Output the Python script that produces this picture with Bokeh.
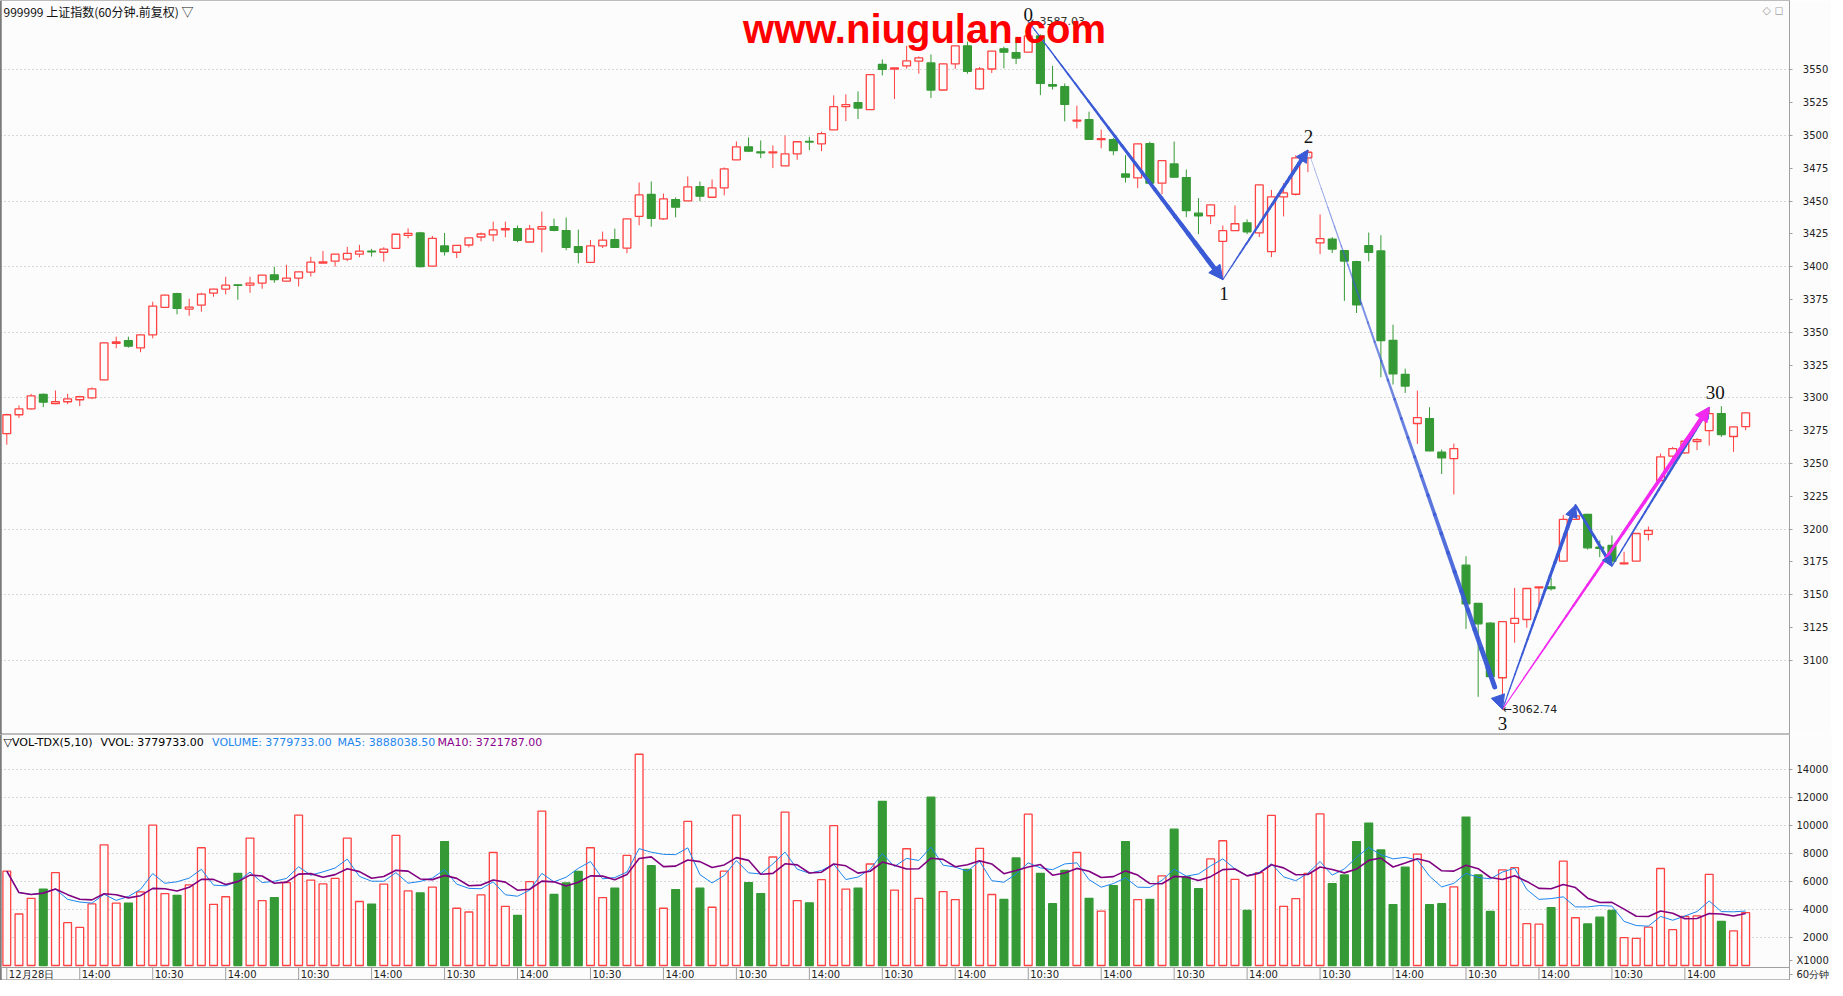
import numpy as np
import pandas as pd
from bokeh.plotting import figure
from bokeh.models import Range1d, FixedTicker, Label, Arrow, NormalHead, ColumnDataSource, Span
from bokeh.layouts import column
from bokeh.embed import file_html
from bokeh.resources import INLINE
from bokeh.core.properties import value

# ---------------- data (60-minute bars) ----------------
opens = [3272.8, 3287.2, 3291.7, 3302.6, 3295.6, 3297.1, 3298.6, 3300.1, 3313.8, 3341.6,
         3343.7, 3338.1, 3348.0, 3369.0, 3379.4, 3367.7, 3370.7, 3379.9, 3382.9, 3386.2,
         3385.9, 3387.5, 3393.8, 3389.0, 3391.3, 3395.8, 3402.7, 3404.2, 3405.7, 3409.5,
         3411.8, 3411.0, 3414.0, 3423.9, 3425.7, 3400.4, 3415.8, 3411.0, 3416.5, 3422.6,
         3424.2, 3428.0, 3429.0, 3418.8, 3428.7, 3430.5, 3427.5, 3415.3, 3403.3, 3415.8,
         3420.6, 3414.2, 3438.4, 3455.0, 3436.4, 3451.1, 3450.1, 3461.0, 3452.9, 3460.0,
         3481.4, 3491.3, 3487.5, 3486.8, 3476.8, 3486.0, 3495.4, 3493.6, 3504.3, 3521.9,
         3524.9, 3519.6, 3554.1, 3550.5, 3553.0, 3556.6, 3555.2, 3534.6, 3554.5, 3568.3,
         3535.4, 3550.6, 3566.0, 3563.0, 3563.4, 3575.8, 3538.6, 3537.1, 3511.0, 3512.0,
         3496.8, 3496.8, 3470.7, 3467.6, 3493.7, 3463.6, 3478.3, 3467.9, 3440.8, 3438.8,
         3419.3, 3427.4, 3433.4, 3425.8, 3411.4, 3453.2, 3455.2, 3482.9, 3418.2, 3421.0,
         3412.2, 3403.8, 3416.0, 3412.0, 3343.9, 3318.0, 3280.5, 3284.3, 3258.6, 3253.8,
         3172.6, 3143.4, 3128.4, 3086.8, 3128.2, 3131.2, 3155.3, 3156.1, 3175.6, 3207.4,
         3211.2, 3186.3, 3187.6, 3173.6, 3175.6, 3196.0, 3237.1, 3255.6, 3258.1, 3266.8,
         3275.1, 3288.1, 3270.6, 3278.2]
highs = [3288.0, 3294.3, 3303.1, 3303.4, 3305.7, 3303.1, 3301.6, 3308.0, 3342.2, 3346.7,
         3346.7, 3348.3, 3373.3, 3378.6, 3380.1, 3375.6, 3380.1, 3383.2, 3392.3, 3386.7,
         3392.3, 3393.8, 3399.9, 3401.4, 3396.4, 3407.5, 3412.0, 3409.8, 3415.1, 3416.6,
         3413.5, 3414.8, 3425.0, 3429.2, 3426.5, 3423.4, 3425.7, 3416.5, 3422.1, 3426.0,
         3434.3, 3434.3, 3431.3, 3431.8, 3442.0, 3436.6, 3437.4, 3428.2, 3420.3, 3426.7,
         3429.0, 3436.6, 3464.1, 3464.9, 3455.7, 3452.7, 3468.7, 3464.9, 3466.4, 3475.6,
         3495.4, 3498.5, 3496.2, 3492.4, 3500.0, 3495.4, 3499.0, 3502.8, 3530.5, 3531.3,
         3533.6, 3546.8, 3557.9, 3551.8, 3568.3, 3560.2, 3561.7, 3554.8, 3568.3, 3571.5,
         3552.1, 3564.4, 3567.6, 3574.1, 3587.03, 3577.0, 3553.0, 3539.6, 3522.6, 3518.1,
         3504.4, 3498.0, 3484.9, 3493.7, 3495.3, 3481.3, 3495.3, 3474.0, 3452.2, 3447.5,
         3431.4, 3446.6, 3436.0, 3462.5, 3458.5, 3463.6, 3484.9, 3488.9, 3439.8, 3422.5,
         3412.5, 3404.5, 3426.0, 3424.0, 3355.8, 3322.3, 3305.6, 3292.9, 3260.7, 3265.2,
         3179.4, 3143.6, 3129.2, 3129.7, 3155.3, 3155.0, 3156.3, 3163.0, 3210.7, 3218.3,
         3211.7, 3191.4, 3195.2, 3182.8, 3196.9, 3202.0, 3257.6, 3262.7, 3268.3, 3269.5,
         3292.9, 3293.7, 3278.1, 3288.8]
lows = [3264.4, 3284.7, 3291.2, 3293.0, 3295.2, 3295.3, 3293.8, 3299.1, 3313.5, 3337.8,
        3338.3, 3334.8, 3345.4, 3368.8, 3363.7, 3362.6, 3365.7, 3377.1, 3378.9, 3374.8,
        3380.1, 3383.2, 3387.7, 3388.8, 3384.9, 3392.5, 3402.5, 3400.1, 3404.2, 3407.2,
        3407.7, 3403.9, 3413.8, 3421.6, 3399.4, 3400.2, 3408.5, 3406.5, 3414.7, 3419.3,
        3419.3, 3422.4, 3418.6, 3418.6, 3410.9, 3427.0, 3412.5, 3402.5, 3402.8, 3414.2,
        3414.2, 3410.2, 3431.5, 3430.5, 3435.6, 3437.6, 3449.9, 3449.9, 3452.7, 3454.4,
        3481.2, 3487.3, 3482.7, 3475.1, 3476.6, 3481.4, 3488.8, 3488.0, 3504.1, 3510.9,
        3512.5, 3519.4, 3545.7, 3527.7, 3550.9, 3547.0, 3528.5, 3534.4, 3550.7, 3547.0,
        3534.6, 3547.6, 3551.1, 3554.3, 3563.2, 3530.7, 3535.0, 3510.7, 3505.4, 3496.8,
        3490.2, 3484.9, 3464.1, 3459.8, 3463.1, 3455.2, 3467.9, 3437.7, 3424.8, 3432.4,
        3390.1, 3427.2, 3424.8, 3422.5, 3407.3, 3438.3, 3454.2, 3472.0, 3409.6, 3410.4,
        3373.9, 3364.7, 3404.0, 3315.7, 3310.2, 3303.8, 3265.0, 3259.4, 3242.1, 3226.4,
        3124.0, 3072.3, 3087.4, 3062.74, 3113.5, 3124.9, 3141.9, 3153.3, 3175.4, 3207.0,
        3184.5, 3178.7, 3171.8, 3173.0, 3175.4, 3191.4, 3237.0, 3249.2, 3257.4, 3260.2,
        3263.7, 3270.3, 3258.9, 3275.4]
closes = [3287.2, 3291.7, 3301.6, 3296.8, 3297.1, 3299.3, 3300.9, 3306.9, 3341.9, 3342.6,
          3339.4, 3348.0, 3370.0, 3378.3, 3368.2, 3369.2, 3379.1, 3382.9, 3385.9, 3385.7,
          3387.5, 3393.5, 3390.2, 3391.3, 3396.1, 3403.4, 3403.7, 3409.5, 3410.2, 3411.8,
          3411.3, 3413.3, 3424.7, 3425.4, 3400.1, 3421.6, 3411.5, 3416.3, 3421.9, 3424.9,
          3428.0, 3429.0, 3420.1, 3428.7, 3430.5, 3427.7, 3414.7, 3410.9, 3415.8, 3420.3,
          3414.7, 3436.4, 3454.7, 3436.9, 3451.6, 3445.3, 3460.8, 3453.7, 3460.0, 3474.5,
          3491.3, 3488.0, 3486.8, 3487.5, 3486.0, 3495.2, 3494.9, 3501.3, 3521.9, 3523.4,
          3520.9, 3546.4, 3550.3, 3551.5, 3556.8, 3559.1, 3534.6, 3554.5, 3568.2, 3548.9,
          3550.6, 3564.3, 3563.4, 3559.0, 3575.8, 3539.6, 3537.6, 3523.6, 3511.7, 3497.0,
          3497.5, 3488.4, 3468.2, 3493.5, 3463.6, 3480.8, 3468.2, 3442.8, 3438.8, 3447.1,
          3427.4, 3432.7, 3426.6, 3462.3, 3453.2, 3456.2, 3482.9, 3487.2, 3421.3, 3413.4,
          3404.3, 3371.0, 3411.0, 3343.7, 3318.3, 3309.1, 3285.0, 3259.6, 3254.3, 3261.4,
          3143.2, 3127.9, 3087.6, 3129.5, 3132.0, 3154.8, 3156.1, 3154.8, 3207.4, 3210.2,
          3185.8, 3185.3, 3175.6, 3174.4, 3196.7, 3199.0, 3255.1, 3261.4, 3267.0, 3268.3,
          3288.1, 3272.1, 3277.9, 3288.6]
# volume in axis units (x1000)
volumes = [6740, 3680, 4800, 5460, 6630, 3060, 2720, 4400, 8620, 4460,
           4460, 5260, 10030, 5140, 5010, 5760, 8410, 4370, 4910, 6580,
           9100, 4640, 4850, 5920, 10740, 6100, 5830, 6220, 9100, 4570,
           4390, 5810, 9300, 5330, 5190, 5600, 8850, 4090, 3820, 5050,
           8070, 4230, 3570, 5990, 11020, 5070, 5900, 6720, 8410, 4850,
           5530, 7860, 15090, 7130, 4090, 5420, 10290, 5530, 4160, 6740,
           10740, 5920, 5140, 7750, 10950, 4640, 4480, 6130, 9990, 5460,
           5530, 7250, 11730, 5390, 8340, 4800, 12020, 5280, 4710, 6860,
           8370, 5070, 4730, 7680, 10810, 6580, 4410, 6790, 8070, 4800,
           3890, 5710, 8850, 4710, 4730, 6400, 9740, 6330, 5490, 7610,
           8910, 6150, 3930, 6630, 10720, 4230, 4780, 6580, 10830, 5850,
           6470, 8850, 10170, 8250, 4340, 7020, 7950, 4340, 4410, 5620,
           10600, 6470, 3860, 6830, 6990, 2990, 2950, 4140, 7450, 3410,
           2970, 3450, 3930, 1990, 1940, 2740, 6930, 2560, 3500, 3540,
           6510, 3150, 2470, 3779.733]

x_tick_bars = [0, 6, 12, 18, 24, 30, 36, 42, 48, 54, 60, 66, 72, 78, 84, 90, 96, 102,
               108, 114, 120, 126, 132, 138]
x_tick_labels = ["12月28日", "14:00", "10:30", "14:00", "10:30", "14:00", "10:30", "14:00",
                 "10:30", "14:00", "10:30", "14:00", "10:30", "14:00", "10:30", "14:00",
                 "10:30", "14:00", "10:30", "14:00", "10:30", "14:00", "10:30", "14:00"]
price_ticks = [3100, 3125, 3150, 3175, 3200, 3225, 3250, 3275, 3300, 3325, 3350, 3375,
               3400, 3425, 3450, 3475, 3500, 3525, 3550]
price_grid = [3100, 3150, 3200, 3250, 3300, 3350, 3400, 3450, 3500, 3550]
vol_ticks = [2000, 4000, 6000, 8000, 10000, 12000, 14000]

# zigzag pivots: bar index and whether it is a high (H) or low (L)
pivot_bars = [84, 100, 107, 123, 129, 132, 140]
pivot_kind = ["H", "L", "H", "L", "H", "L", "H"]
pivot_text = ["0", "1", "2", "3", "", "", "30"]

title_text = "999999 上证指数(60分钟.前复权) ▽"
vol_legend = [("▽VOL-TDX(5,10)", "#000000"), ("VVOL: 3779733.00", "#000000"),
              ("VOLUME: 3779733.00", "#1C86EE"), ("MA5: 3888038.50", "#1C86EE"),
              ("MA10: 3721787.00", "#8B008B")]

# ---------------- layout constants (figure px == reference px) ----------------
BG = "#FCFCFC"
RED = "#FF4242"
GREEN = "#359A35"
ZBLUE = "#3A5AD6"
MAG = "#F22AF0"
GRIDC = "#B5B5B5"
AXC = "#A0A0A0"

FRAME_W = 1789
RIGHT_W = 38
PRICE_H = 734
VOL_H = 246          # volume frame incl. the time strip, y 734..980
BAR0_X, BAR_DX = 6.3, 12.16
X0 = -BAR0_X / BAR_DX
X1 = X0 + FRAME_W / BAR_DX
PX_PER_PT = 1.3125
P_TOP = 3550 + 69.3 / PX_PER_PT
P_BOT = P_TOP - PRICE_H / PX_PER_PT
ZERO_Y = 965.0        # page y of volume zero
VPX = (ZERO_Y - 769.0) / 14000.0
V_TOP = (ZERO_Y - 734) / VPX
V_BOT = V_TOP - VOL_H / VPX


def bx(page_x):
    return X0 + page_x / BAR_DX


def py(page_y):
    return P_TOP - page_y / PX_PER_PT


def vy(page_y):
    return V_TOP - (page_y - 734) / VPX


o = np.array(opens)
h = np.array(highs)
l = np.array(lows)
c = np.array(closes)
v = np.array(volumes, dtype=float)
n = len(c)
idx = np.arange(n)
up = c >= o
top = np.maximum(o, c)
bot = np.minimum(o, c)
top = np.maximum(top, bot + 0.45)
col = np.where(up, RED, GREEN)
fill = np.where(up, BG, GREEN)
ma5 = pd.Series(v).rolling(5, min_periods=1).mean().values
ma10 = pd.Series(v).rolling(10, min_periods=1).mean().values

src = ColumnDataSource(dict(x=idx, h=h, l=l, top=top, bot=bot, col=col, fill=fill,
                            vol=v, ma5=ma5, ma10=ma10))


def style_right_axis(a, ticks, overrides):
    a.ticker = FixedTicker(ticks=ticks)
    a.major_label_overrides = overrides
    a.major_label_text_font = "DejaVu Sans"
    a.major_label_text_font_size = "10px"
    a.major_label_text_color = "#222222"
    a.major_label_standoff = 4
    a.major_tick_out = 3
    a.major_tick_in = 0
    a.minor_tick_out = 0
    a.minor_tick_in = 0
    a.axis_line_color = AXC
    a.major_tick_line_color = AXC


def base_fig(height, yr):
    f = figure(frame_width=FRAME_W, frame_height=height, x_range=Range1d(X0, X1),
               y_range=yr, x_axis_location=None, y_axis_location="right",
               toolbar_location=None, output_backend="svg", min_border_left=0,
               min_border_right=RIGHT_W, min_border_top=0, min_border_bottom=0,
               background_fill_color=BG, border_fill_color=BG, outline_line_color="#BDBDBD")
    f.xgrid.visible = False
    f.ygrid.grid_line_color = GRIDC
    f.ygrid.grid_line_dash = "1 3"
    f.add_layout(Span(location=X0, dimension="height", line_color="#3C3C3C", line_width=2))
    return f


# ---------------- price panel ----------------
p = base_fig(PRICE_H, Range1d(P_BOT, P_TOP))
p.ygrid.ticker = FixedTicker(ticks=price_grid)
style_right_axis(p.yaxis[0], price_ticks, {t: "\u2007" + str(t) for t in price_ticks})

p.segment(x0="x", y0="h", x1="x", y1="top", line_color="col", line_width=1, source=src)
p.segment(x0="x", y0="bot", x1="x", y1="l", line_color="col", line_width=1, source=src)
p.vbar(x="x", width=0.64, top="top", bottom="bot", fill_color="fill", line_color="col",
       line_width=1.3, source=src)

# zigzag
piv_price = [h[b] if k == "H" else l[b] for b, k in zip(pivot_bars, pivot_kind)]


def tapered(fig, xa, ya, xb, yb, w0, w1, color, head, alpha0=1.0):
    m = 28
    t = np.linspace(0, 0.96, m + 1)
    xs = [[xa + (xb - xa) * t[i], xa + (xb - xa) * t[i + 1]] for i in range(m)]
    ys = [[ya + (yb - ya) * t[i], ya + (yb - ya) * t[i + 1]] for i in range(m)]
    ws = [w0 + (w1 - w0) * (t[i] + t[i + 1]) / 2 / 0.96 for i in range(m)]
    al = [alpha0 + (1 - alpha0) * (t[i] + t[i + 1]) / 2 / 0.96 for i in range(m)]
    fig.multi_line(xs=xs, ys=ys, line_width=ws, line_color=color, line_alpha=al,
                   line_cap="round")
    if head:
        fig.add_layout(Arrow(end=NormalHead(size=head, fill_color=color, line_color=color,
                                            line_width=1),
                             x_start=xa, y_start=ya, x_end=xb, y_end=yb,
                             line_alpha=0, line_width=0))


widths = [(1.0, 5.0, 14, 1.0), (1.0, 4.0, 12, 1.0), (0.6, 5.0, 14, 0.5),
          (1.0, 4.0, 12, 1.0), (2.2, 3.2, 10, 1.0), (1.2, 3.4, 11, 1.0)]
for i in range(len(pivot_bars) - 1):
    w0, w1, hs, a0 = widths[i]
    tapered(p, pivot_bars[i], piv_price[i], pivot_bars[i + 1], piv_price[i + 1],
            w0, w1, ZBLUE, hs, a0)
# magenta long leg from pivot "3" to pivot "30"
tapered(p, pivot_bars[3], piv_price[3], pivot_bars[6], piv_price[6], 1.0, 4.5, MAG, 14)

# price marks for the extreme points
p.add_layout(Label(x=pivot_bars[0], y=piv_price[0], text="←%.2f" % piv_price[0],
                   text_font="DejaVu Sans", text_font_size="11px",
                   text_color="#333333", text_baseline="middle", x_offset=2))
p.add_layout(Label(x=pivot_bars[3], y=piv_price[3], text="←%.2f" % piv_price[3],
                   text_font="DejaVu Sans", text_font_size="11px",
                   text_color="#222222", text_baseline="middle", x_offset=0))

label_dy = {"0": 6.8, "1": -13.5, "2": 13.2, "3": -14.2, "30": 15.0}
label_dx = {"0": 0.0, "1": 0.1, "2": 0.05, "3": 0.0, "30": 0.5}
for b, pr, t in zip(pivot_bars, piv_price, pivot_text):
    if not t:
        continue
    p.add_layout(Label(x=b + label_dx[t], y=pr + label_dy[t] / PX_PER_PT, text=t,
                       text_font="Liberation Serif", text_font_size="19px",
                       text_color="#111111", text_align="center", text_baseline="middle"))

# watermark and titles
p.add_layout(Label(x=bx(924), y=py(28.5), text="www.niugulan.com",
                   text_font="Liberation Sans", text_font_style="bold",
                   text_font_size="40px", text_color="#FF0000", text_align="center",
                   text_baseline="alphabetic"))
p.add_layout(Label(x=bx(3), y=py(10.5), text=title_text,
                   text_font="Noto Sans CJK SC", text_font_size="12px",
                   text_color="#111111", text_baseline="middle"))
p.add_layout(Label(x=bx(1762), y=py(10), text="◇ ◻",
                   text_font="DejaVu Sans", text_font_size="11px",
                   text_color="#A0A0A0", text_baseline="middle"))

# ---------------- volume panel ----------------
q = base_fig(VOL_H, Range1d(V_BOT, V_TOP))
q.ygrid.ticker = FixedTicker(ticks=vol_ticks)
x1000_val = (ZERO_Y - 960) * 1.0 / VPX
min60_val = -(974 - ZERO_Y) * 1.0 / VPX
vol_over = {t: ("\u2007" + str(t) if t < 10000 else str(t)) for t in vol_ticks}
vol_over[x1000_val] = "X1000"
vol_over[min60_val] = "60分钟"
style_right_axis(q.yaxis[0], vol_ticks + [x1000_val, min60_val], vol_over)

q.vbar(x="x", width=0.64, top="vol", bottom=0, fill_color="fill", line_color="col",
       line_width=1.3, source=src)
q.line(x="x", y="ma5", line_color="#1C86EE", line_width=1, source=src)
q.line(x="x", y="ma10", line_color="#800080", line_width=1.6, source=src)

# time strip at the bottom of the volume frame
strip_top = vy(967)
q.add_layout(Span(location=strip_top, dimension="width", line_color=AXC, line_width=1))
q.segment(x0=x_tick_bars, y0=[strip_top] * len(x_tick_bars), x1=x_tick_bars,
          y1=[V_BOT] * len(x_tick_bars), line_color=AXC, line_width=1)
q.text(x=x_tick_bars, y=[vy(973.5)] * len(x_tick_bars), text=x_tick_labels,
       text_font=value("DejaVu Sans"), text_font_size="10px", text_color="#222222",
       text_baseline="middle", text_align="left", x_offset=2)

lx = [3, 100, 211.6, 337, 437]
for (txt, colr), xx in zip(vol_legend, lx):
    q.add_layout(Label(x=bx(xx), y=vy(742), text=txt, text_font="DejaVu Sans",
                       text_font_size="11px", text_color=colr, text_baseline="middle"))

layout = column(p, q, spacing=0)
open("out.html", "w").write(file_html(layout, INLINE))
